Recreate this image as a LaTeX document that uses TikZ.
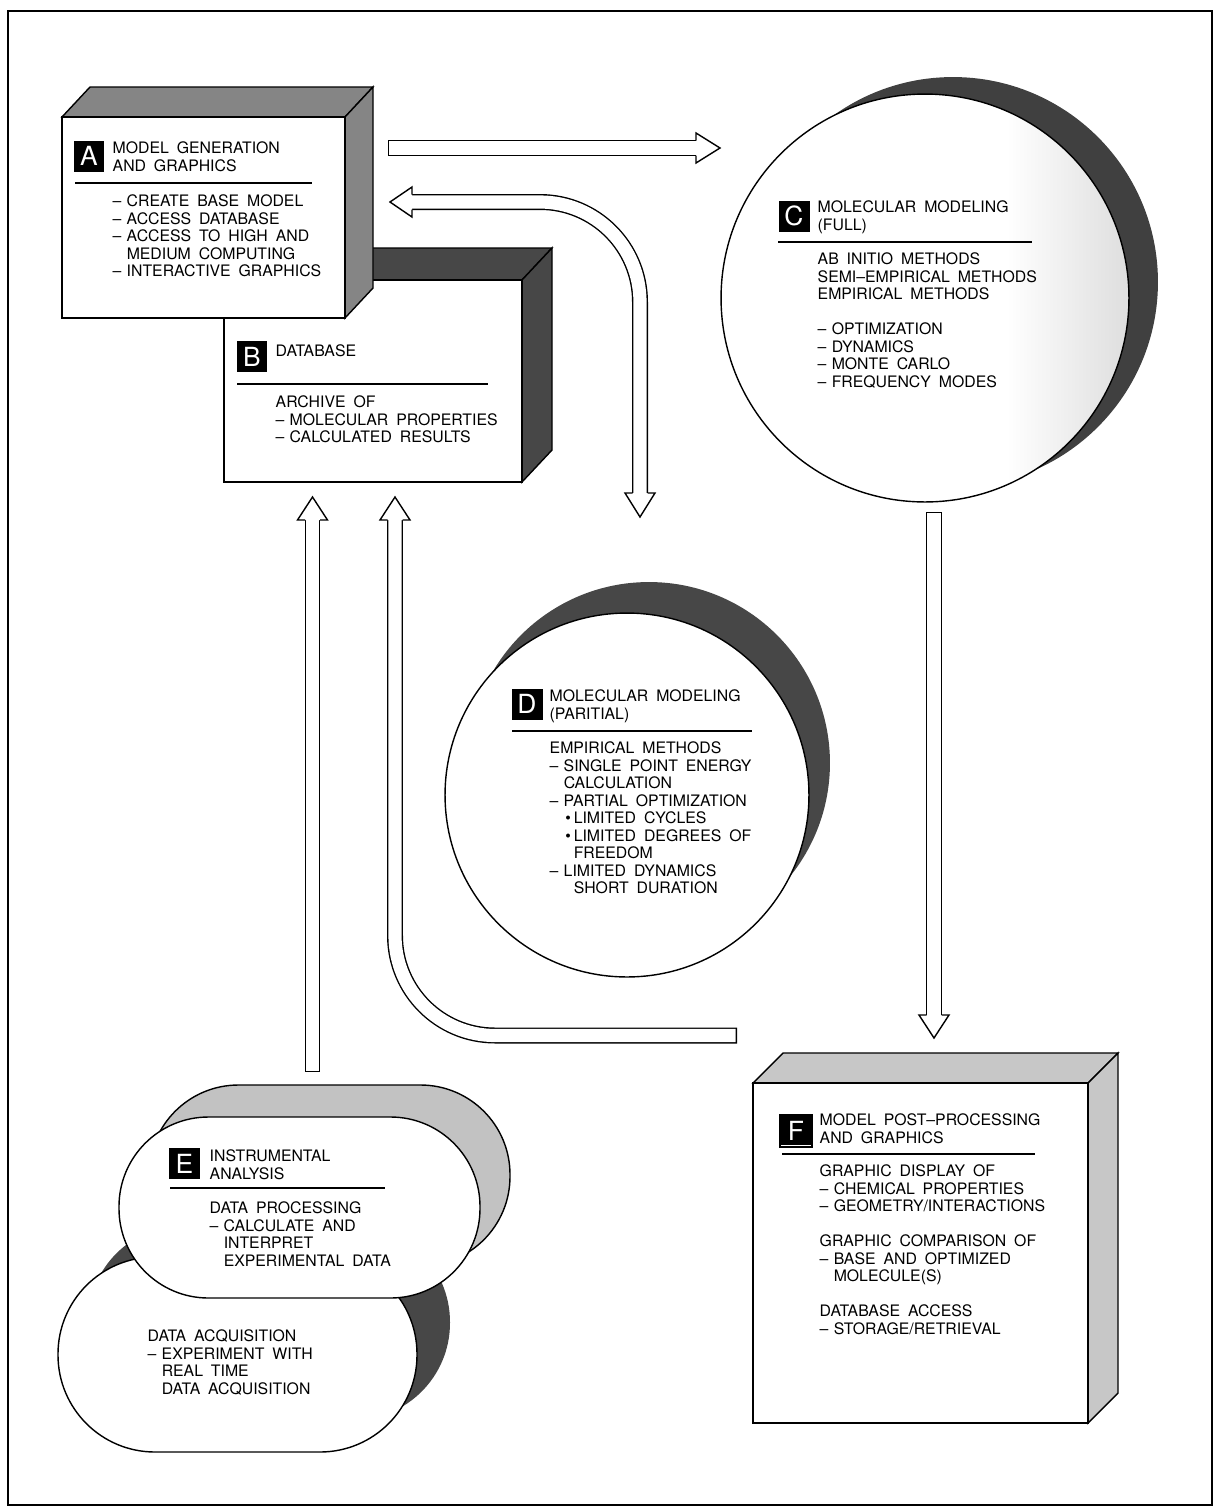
\documentclass[tikz,border=0pt]{standalone}
\usepackage{fontspec}
\setmainfont{TeX Gyre Heros}[WordSpace=1.8]
\pgfdeclarehorizontalshading{speckle}{100bp}{color(0bp)=(white); color(60bp)=(white); color(75bp)=(black!13); color(100bp)=(black!13)}
\newcommand{\bdash}{\makebox[8pt][l]{--}}
\newcommand{\bind}{\hspace*{8pt}}
\newcommand{\bul}{\makebox[13.7pt][r]{\textbullet\kern1.7pt}}
\newcommand{\bskip}{\hspace*{13.7pt}}
\begin{document}
\begin{tikzpicture}[x=0.02cm, y=-0.02cm, line width=0.8pt, font=\fontsize{9}{9.96}\selectfont]
\tikzstyle{tag}=[fill=black, text=white, minimum size=0.62cm, inner sep=0pt, font=\fontsize{15}{15}\selectfont]
\tikzstyle{txt}=[anchor=north west, align=left, inner sep=0pt]
\tikzstyle{midface}=[draw, fill=black!48]
\tikzstyle{darkface}=[draw, fill=black!72]
\tikzstyle{lightface}=[draw, fill=black!22]
\tikzstyle{shaft}=[line width=0.8pt, double=white, double distance=7.5pt, line cap=rect]
\tikzstyle{headfill}=[draw, fill=white, line join=miter]
\useasboundingbox (0,0) rectangle (1214,1512);
\draw[line width=1pt] (8,11) rectangle (1212,1505);

% B database
\draw[darkface] (224,280) -- (254,248) -- (552,248) -- (522,280) -- cycle;
\draw[darkface] (522,280) -- (552,248) -- (552,450) -- (522,482) -- cycle;
\draw[fill=white] (224,280) rectangle (522,482);
% A model generation
\draw[midface] (62,117) -- (90,87) -- (373,87) -- (345,117) -- cycle;
\draw[midface] (345,117) -- (373,87) -- (373,288) -- (345,318) -- cycle;
\draw[fill=white] (62,117) rectangle (345,318);

% C full modeling
\fill[black!75] (953,282) circle[radius=4.1cm];
\shadedraw[shading=speckle] (925,298) circle[radius=4.08cm];
% D partial modeling
\fill[black!72] (649,763) circle[radius=3.62cm];
\draw[fill=white] (627,795) circle[radius=3.64cm];

% E instrumental analysis
\fill[black!72, rounded corners=1.94cm] (88,1225) rectangle (450,1420);
\draw[fill=white, rounded corners=1.94cm] (58,1257) rectangle (417,1452);
\draw[fill=black!24, rounded corners=1.79cm] (149,1085) rectangle (510,1266);
\draw[fill=white, rounded corners=1.79cm] (119,1117) rectangle (480,1298);

% F post-processing
\draw[lightface] (753,1083) -- (783,1053) -- (1118,1053) -- (1088,1083) -- cycle;
\draw[lightface] (1088,1083) -- (1118,1053) -- (1118,1393) -- (1088,1423) -- cycle;
\draw[fill=white] (753,1083) rectangle (1088,1423);

% arrows
\coordinate (ac-tail) at (396,148);
\coordinate (ac-base) at (696,148);
\coordinate (ac-tip) at (720,148);
\draw[shaft] (ac-tail) -- (ac-base);
\draw[headfill] (ac-tip) ++(-24,-7.5) -- ++(0,-7.5) -- (ac-tip) -- ++(-24,15) -- ++(0,-7.5);

\coordinate (da-tip) at (390,202);
\coordinate (da-base) at (412,202);
\coordinate (ad-base) at (640,493);
\coordinate (ad-tip) at (640,517);
\draw[shaft, rounded corners=2cm] (da-base) -| (ad-base);
\draw[headfill] (da-tip) ++(22,-7.5) -- ++(0,-7.5) -- (da-tip) -- ++(22,15) -- ++(0,-7.5);
\draw[headfill] (ad-tip) ++(-7.5,-24) -- ++(-7.5,0) -- (ad-tip) -- ++(15,-24) -- ++(-7.5,0);

\coordinate (cf-tail) at (934,520);
\coordinate (cf-base) at (934,1015);
\coordinate (cf-tip) at (934,1038);
\draw[shaft] (cf-tail) -- (cf-base);
\draw[headfill] (cf-tip) ++(-7.5,-23) -- ++(-7.5,0) -- (cf-tip) -- ++(15,-23) -- ++(-7.5,0);

\coordinate (eb-tail) at (312.5,1064);
\coordinate (eb-base) at (312.5,520);
\coordinate (eb-tip) at (312.5,497);
\draw[shaft] (eb-tail) -- (eb-base);
\draw[headfill] (eb-tip) ++(-7.5,23) -- ++(-7.5,0) -- (eb-tip) -- ++(15,23) -- ++(-7.5,0);

\coordinate (ub-tail) at (729,1035.5);
\coordinate (ub-base) at (395,520);
\coordinate (ub-tip) at (395,497);
\draw[shaft, rounded corners=2cm] (ub-tail) -| (ub-base);
\draw[headfill] (ub-tip) ++(-7.5,23) -- ++(-7.5,0) -- (ub-tip) -- ++(15,23) -- ++(-7.5,0);

% texts
\node[tag] (labA) at (89,156) {A};
\node[txt] (A-head) at (112,141) {MODEL GENERATION\\AND GRAPHICS};
\draw (75,183) -- (312,183);
\node[txt] (A-body) at (112,194) {\bdash CREATE BASE MODEL\\\bdash ACCESS DATABASE\\\bdash ACCESS TO HIGH AND\\\bind MEDIUM COMPUTING\\\bdash INTERACTIVE GRAPHICS};

\node[tag] (labB) at (252,356.5) {B};
\node[txt] (B-head) at (275,344) {DATABASE};
\draw (237,384) -- (488,384);
\node[txt] (B-body) at (275,395) {ARCHIVE OF\\\bdash MOLECULAR PROPERTIES\\\bdash CALCULATED RESULTS};

\node[tag] (labC) at (794,216) {C};
\node[txt] (C-head) at (817,200) {MOLECULAR MODELING\\(FULL)};
\draw (778,242) -- (1032,242);
\node[txt] (C-body) at (817,252) {AB INITIO METHODS\\SEMI--EMPIRICAL METHODS\\EMPIRICAL METHODS\\[9.96pt]\bdash OPTIMIZATION\\\bdash DYNAMICS\\\bdash MONTE CARLO\\\bdash FREQUENCY MODES};

\node[tag] (labD) at (527,704) {D};
\node[txt] (D-head) at (549,689) {MOLECULAR MODELING\\(PARITIAL)};
\draw (512,731) -- (752,731);
\node[txt] (D-body) at (549,741) {EMPIRICAL METHODS\\\bdash SINGLE POINT ENERGY\\\bind CALCULATION\\\bdash PARTIAL OPTIMIZATION\\\bul LIMITED CYCLES\\\bul LIMITED DEGREES OF\\\bskip FREEDOM\\\bdash LIMITED DYNAMICS\\\bskip SHORT DURATION};

\node[tag] (labE) at (184.5,1163.5) {E};
\node[txt] (E-head) at (209,1149) {INSTRUMENTAL\\ANALYSIS};
\draw (170,1188) -- (385,1188);
\node[txt] (E-body) at (209,1201) {DATA PROCESSING\\\bdash CALCULATE AND\\\bind INTERPRET\\\bind EXPERIMENTAL DATA};
\node[txt] (E-acq) at (147,1329) {DATA ACQUISITION\\\bdash EXPERIMENT WITH\\\bind REAL TIME\\\bind DATA ACQUISITION};

\node[tag, minimum size=0.68cm] (labF) at (796,1130.5) {F};
\draw[white, line width=0.6pt] ([shift={(3,-3)}]labF.south west) -- ([shift={(-3,-3)}]labF.south east);
\node[txt] (F-head) at (819,1113) {MODEL POST--PROCESSING\\AND GRAPHICS};
\draw (782,1154) -- (1035,1154);
\node[txt] (F-body) at (819,1164) {GRAPHIC DISPLAY OF\\\bdash CHEMICAL PROPERTIES\\\bdash GEOMETRY/INTERACTIONS\\[9.96pt]GRAPHIC COMPARISON OF\\\bdash BASE AND OPTIMIZED\\\bind MOLECULE(S)\\[9.96pt]DATABASE ACCESS\\\bdash STORAGE/RETRIEVAL};
\end{tikzpicture}
\end{document}
